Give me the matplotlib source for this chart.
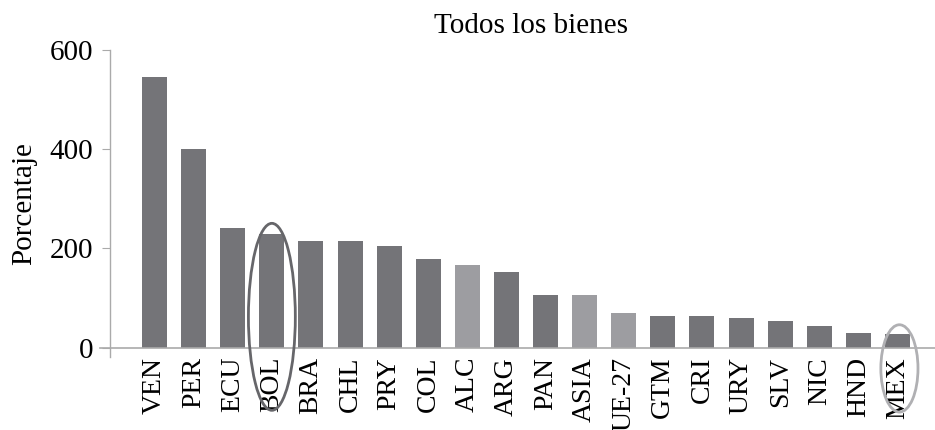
import matplotlib
matplotlib.use("Agg")
import matplotlib.pyplot as plt
from matplotlib.patches import Ellipse

categories = ["VEN", "PER", "ECU", "BOL", "BRA", "CHL", "PRY", "COL", "ALC", "ARG",
              "PAN", "ASIA", "UE-27", "GTM", "CRI", "URY", "SLV", "NIC", "HND", "MEX"]
values = [545, 400, 242, 230, 214, 214, 204, 178, 166, 152,
          107, 107, 69, 63, 63, 59, 53, 43, 29, 27]
highlight = ["ALC", "ASIA", "UE-27"]

dark = "#747478"
light = "#9d9da1"
axis_col = "#aaaaaa"

plt.rcParams["font.family"] = ["Liberation Serif", "DejaVu Serif"]

fig = plt.figure(figsize=(9.35, 4.3), dpi=100)
ax = fig.add_axes([110/935, (430-357)/430, 1 - 110/935, (357-50)/430])

x = list(range(len(categories)))
colors = [light if c in highlight else dark for c in categories]
ax.bar(x, values, width=0.64, color=colors, zorder=2)

ax.set_xlim(-1.14, 19.96)
ax.set_ylim(-19, 600)
ax.set_yticks([0, 200, 400, 600])
ax.set_xticks(x)
ax.set_xticklabels(categories, rotation=90, va="top", ha="center")

for s in ["top", "right", "bottom"]:
    ax.spines[s].set_visible(False)
ax.spines["left"].set_color(axis_col)
ax.spines["left"].set_linewidth(1.0)
ax.tick_params(axis="y", length=6, color=axis_col, labelsize=21, pad=6)
ax.tick_params(axis="x", length=0, labelsize=20, pad=0)

# horizontal axis line at 0
ax.plot([-1.39, 20.5], [0, 0], color=axis_col, lw=1.2, clip_on=False, zorder=3)

ax.set_ylabel("Porcentaje", fontsize=21, labelpad=9)
ax.set_title("Todos los bienes", fontsize=21, pad=12, x=0.51)

# highlight ellipses
ax.add_patch(Ellipse((3, 62), 1.2, 377, fill=False, edgecolor="#66666a", lw=2.0,
                     clip_on=False, zorder=4))
ax.add_patch(Ellipse((19.05, -42), 0.95, 176, fill=False, edgecolor="#b0b0b3", lw=2.0,
                     clip_on=False, zorder=4))

fig.savefig("out.png", dpi=100)
